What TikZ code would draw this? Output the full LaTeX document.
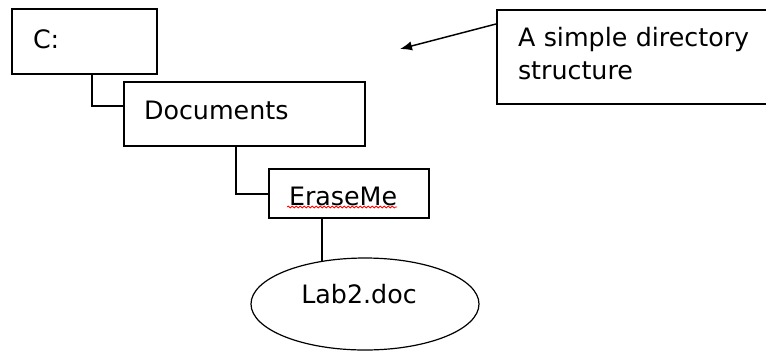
\documentclass[tikz,border=0pt]{standalone}
\usepackage{fontspec}
\setmainfont{DejaVu Sans}
\usetikzlibrary{shapes.geometric,arrows.meta,decorations.pathmorphing,calc}
\tikzstyle{boite}=[draw, line width=1.5pt, anchor=north west, inner ysep=0pt, align=left, font=\fontsize{19}{24.75}\selectfont]
\tikzstyle{lien}=[-, line width=1.5pt]
\tikzstyle{fleche}=[-{Latex[length=9pt,width=7pt]}, line width=1.1pt]
\tikzstyle{faute}=[red, line width=0.6pt, decoration={snake, amplitude=0.7pt, segment length=3pt}, decorate]

\begin{document}
\begin{tikzpicture}[x=0.75pt, y=-0.75pt]
\useasboundingbox (0,0) rectangle (766,351);

% dossiers
\node[boite, inner xsep=15.75pt, text width=77.25pt, text height=29.25pt, text depth=19.5pt] (racine) at (11,8) {C:};
\node[boite, inner xsep=15pt, text width=150.75pt, text height=27.75pt, text depth=20.25pt] (docs) at (123,81) {Documents};
\node[boite, inner xsep=15pt, text width=90pt, text height=27pt, text depth=9.75pt] (erase) at (268,168) {EraseMe};

% fichier
\node[draw, ellipse, line width=0.9pt, inner sep=0pt, minimum width=171pt, minimum height=69pt] (lab) at (365,304) {};
\node[inner sep=0pt, text height=8pt, text depth=9pt, font=\fontsize{19}{24}\selectfont] (labtxt) at (359,304) {Lab2.doc};

% liens
\draw[lien] ([xshift=60.75pt]racine.south west) |- ([yshift=6pt]docs.west);
\draw[lien] ([xshift=84.75pt]docs.south west) |- (erase.west);
\draw[lien] ([xshift=40.5pt]erase.south west) coordinate (e1) -- (e1 |- lab.135);

% soulignement
\draw[faute] ([xshift=14.25pt,yshift=-1.5pt]erase.base west) -- ([xshift=96.75pt,yshift=-1.5pt]erase.base west);

% note
\node[boite, inner xsep=15.75pt, text width=189pt, text height=27pt, text depth=43.5pt] (note) at (496,9) {A simple directory\\structure};
\coordinate (pointe) at (400,49);
\draw[fleche] ([yshift=-11.25pt]note.north west) -- (pointe);

\end{tikzpicture}
\end{document}
